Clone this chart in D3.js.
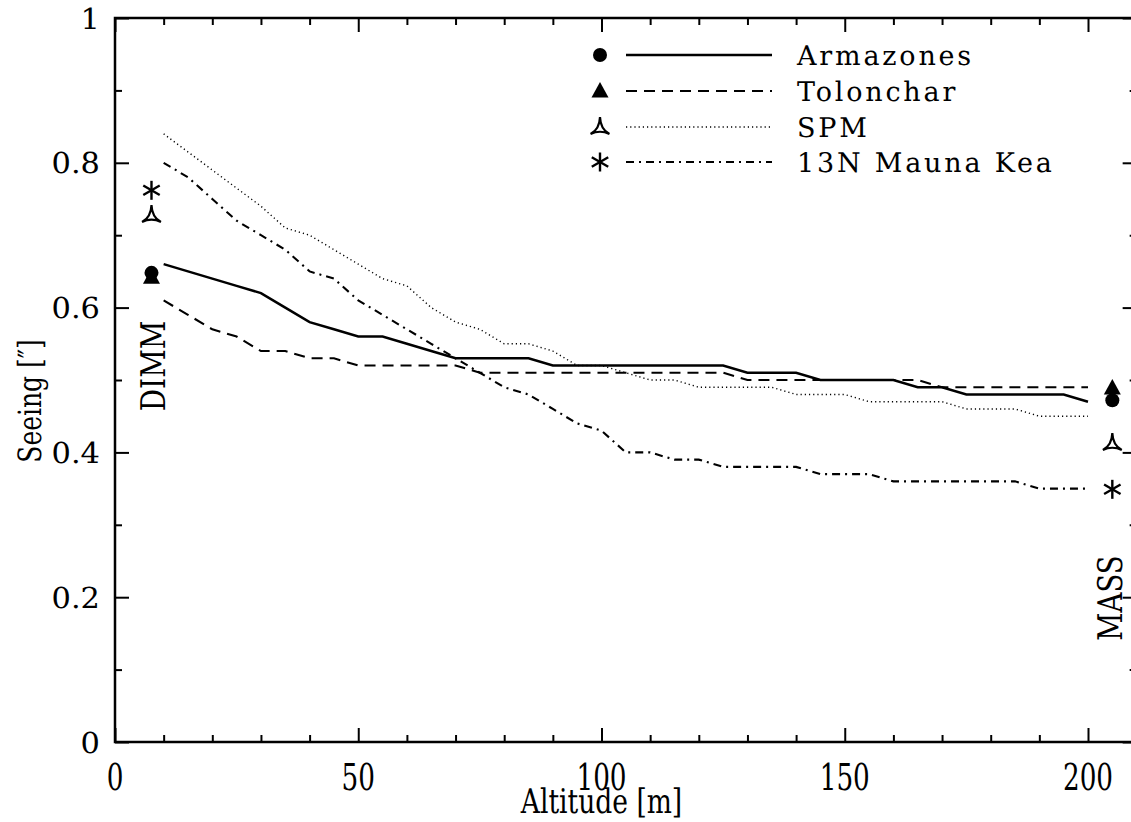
<!DOCTYPE html>
<meta charset="utf-8">
<title>Seeing vs altitude</title>
<style>
  body { margin:0; padding:0; background:#fff; }
  text { font-family: 'DejaVu Serif', serif; fill: #000; text-rendering: geometricPrecision; }
</style>
<body>
<div id="chart"></div>
<script src="https://cdn.jsdelivr.net/npm/d3@7"></script>
<script>

// altitude grid [m]
var altitudes = [10,15,20,25,30,35,40,45,50,55,60,65,70,75,80,85,90,95,100,105,
                 110,115,120,125,130,135,140,145,150,155,160,165,170,175,180,185,190,195,200];

var armazones = [0.66,0.65,0.64,0.63,0.62,0.60,0.58,0.57,0.56,0.56,0.55,0.54,0.53,0.53,0.53,0.53,0.52,0.52,0.52,0.52,
                 0.52,0.52,0.52,0.52,0.51,0.51,0.51,0.50,0.50,0.50,0.50,0.49,0.49,0.48,0.48,0.48,0.48,0.48,0.47];
var tolonchar = [0.61,0.59,0.57,0.56,0.54,0.54,0.53,0.53,0.52,0.52,0.52,0.52,0.52,0.51,0.51,0.51,0.51,0.51,0.51,0.51,
                 0.51,0.51,0.51,0.51,0.50,0.50,0.50,0.50,0.50,0.50,0.50,0.50,0.49,0.49,0.49,0.49,0.49,0.49,0.49];
var spm       = [0.84,0.815,0.79,0.765,0.74,0.71,0.70,0.68,0.66,0.64,0.63,0.60,0.58,0.57,0.55,0.55,0.54,0.52,0.52,0.51,
                 0.50,0.50,0.49,0.49,0.49,0.49,0.48,0.48,0.48,0.47,0.47,0.47,0.47,0.46,0.46,0.46,0.45,0.45,0.45];
var maunaKea  = [0.80,0.78,0.75,0.72,0.70,0.68,0.65,0.64,0.61,0.59,0.57,0.55,0.53,0.51,0.49,0.48,0.46,0.44,0.43,0.40,
                 0.40,0.39,0.39,0.38,0.38,0.38,0.38,0.37,0.37,0.37,0.36,0.36,0.36,0.36,0.36,0.36,0.35,0.35,0.35];

// single instrument values: DIMM near the ground, MASS at the top
var dimmAlt = 7.5, massAlt = 205;
var dimm = [0.648, 0.642, 0.728, 0.762];
var mass = [0.472, 0.489, 0.413, 0.349];

var names = ['Armazones','Tolonchar','SPM','13N Mauna Kea'];
var series = [armazones, tolonchar, spm, maunaKea];

var dashes = [null, '11,7', '1.2,3', '8,5,2,5'],
    widths = [2.5, 2.1, 1.4, 2.1],
    symbols = ['circle','triangle','tri','star'];

var W = 1131, H = 822;

var x = d3.scaleLinear().domain([0,210]).range([115, 115 + 210*4.865]),
    y = d3.scaleLinear().domain([0,1]).range([742, 18]);

var svg = d3.select("#chart").append("svg").attr("width", W).attr("height", H);

// ticks, all pointing inward
function ticks(axis, vals, size, tr) {
  var g = svg.append("g").attr("transform", tr)
    .call(axis.tickValues(vals).tickSize(-size).tickFormat(""));
  g.select(".domain").remove();
  g.selectAll(".tick line").attr("stroke", "#000").attr("stroke-width", 2);
}
var xMinor = [10,20,30,40,60,70,80,90,110,120,130,140,160,170,180,190,210],
    xMajor = [0,50,100,150,200],
    yMinor = [0.1,0.3,0.5,0.7,0.9],
    yMajor = [0,0.2,0.4,0.6,0.8,1];

ticks(d3.axisBottom(x), xMinor, 7, "translate(0,742)");
ticks(d3.axisBottom(x), xMajor, 14, "translate(0,742)");
ticks(d3.axisTop(x), xMinor, 7, "translate(0,18)");
ticks(d3.axisTop(x), xMajor, 14, "translate(0,18)");
ticks(d3.axisLeft(y), yMinor, 7, "translate(115,0)");
ticks(d3.axisLeft(y), yMajor, 14, "translate(115,0)");
ticks(d3.axisRight(y), yMinor, 7, "translate(" + x(210) + ",0)");
ticks(d3.axisRight(y), yMajor, 14, "translate(" + x(210) + ",0)");

// frame
svg.append("rect")
  .attr("x", x(0)).attr("y", y(1))
  .attr("width", x(210) - x(0)).attr("height", y(0) - y(1))
  .attr("fill", "none").attr("stroke", "#000").attr("stroke-width", 2.5);

// text helper: size, horizontal squeeze, rotation
function label(s, px, py, size, sx, rot, anchor, ls) {
  svg.append("text")
    .attr("transform", "translate(" + px + "," + py + ") rotate(" + (rot||0) + ") scale(" + sx + ",1)")
    .attr("text-anchor", anchor || "middle")
    .attr("fill", "#000")
    .style("font-size", size + "px")
    .style("letter-spacing", (ls||0) + "px")
    .text(s);
}

xMajor.forEach(function(v) { label(v, x(v), 790, 37, 0.71); });
yMajor.forEach(function(v) { label(v === 0 || v === 1 ? v : v.toFixed(1), 100, y(v) + 10.5, 29, 1.05, 0, "end"); });

label("Altitude [m]", x(100), 813, 34, 0.78);
label("Seeing [\u2033]", 41, 401, 32, 0.78, -90);
label("DIMM", 165, 366, 34, 0.82, -90);
label("MASS", 1122, 598, 34, 0.81, -90);

// curves
var line = d3.line()
  .x(function(d, i) { return x(altitudes[i]); })
  .y(function(d) { return y(d); });

series.forEach(function(s, k) {
  svg.append("path")
    .attr("d", line(s))
    .attr("fill", "none")
    .attr("stroke", "#000")
    .attr("stroke-width", widths[k])
    .attr("stroke-dasharray", dashes[k]);
});

// marker shapes
function marker(kind, px, py) {
  var g = svg.append("g").attr("transform", "translate(" + px + "," + py + ")");
  if (kind == 'circle') {
    g.append("circle").attr("r", 7).attr("fill", "#000");
  } else if (kind == 'triangle') {
    g.append("path").attr("d", "M0,-9L-8.5,6.5L8.5,6.5Z").attr("fill", "#000");
  } else if (kind == 'tri') {
    g.append("path").attr("d", "M0,-10Q-0.5,2.5 -9.5,7Q0,2.5 9.5,7Q0.5,2.5 0,-10Z")
      .attr("fill", "none").attr("stroke", "#000").attr("stroke-width", 2.2);
  } else {
    [90, 30, -30].forEach(function(a) {
      var r = a * Math.PI / 180, c = 9.5 * Math.cos(r), s = 9.5 * Math.sin(r);
      g.append("line").attr("x1", -c).attr("y1", -s).attr("x2", c).attr("y2", s)
        .attr("stroke", "#000").attr("stroke-width", 2.4);
    });
  }
}

dimm.forEach(function(v, k) { marker(symbols[k], x(dimmAlt), y(v)); });
mass.forEach(function(v, k) { marker(symbols[k], x(massAlt), y(v)); });

// legend
var legendY = [55, 91, 127, 162];
names.forEach(function(n, k) {
  marker(symbols[k], 600, legendY[k]);
  svg.append("line")
    .attr("x1", 626).attr("x2", 772)
    .attr("y1", legendY[k]).attr("y2", legendY[k])
    .attr("stroke", "#000")
    .attr("stroke-width", widths[k])
    .attr("stroke-dasharray", dashes[k]);
  label(n, 797, legendY[k] + 10, 27, 1, 0, "start", 2.8);
});

</script>
</body>
